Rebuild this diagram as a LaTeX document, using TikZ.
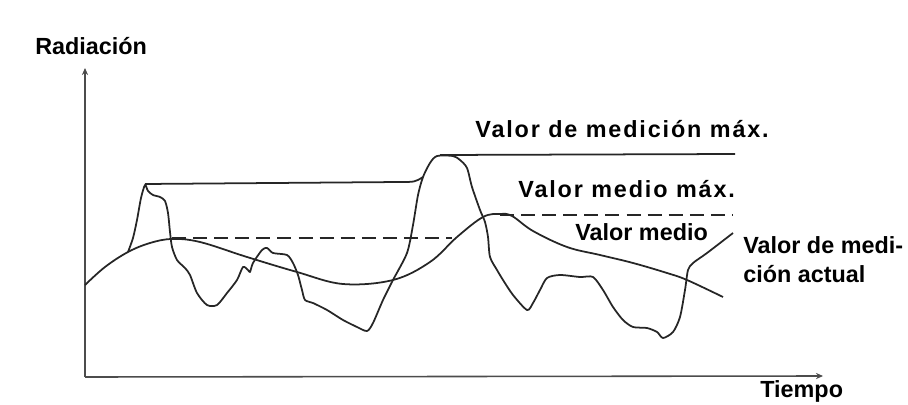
\documentclass[tikz,border=0pt]{standalone}
\usepackage{fontspec}
\setmainfont{Liberation Sans}
\newfontfamily\widefont[LetterSpace=8]{Liberation Sans}
\usetikzlibrary{arrows.meta}
\begin{document}
\begin{tikzpicture}[x=.02cm,y=-.02cm,every node/.style={font=\fontsize{13.3}{16}\selectfont\bfseries,inner sep=0pt,anchor=base west},curve/.style={black!85,line width=1pt,line join=round}]
		\useasboundingbox(0,0)rectangle(908,405);
		\coordinate(O)at(85,377);
		\coordinate(Y)at(85,68);
		\coordinate(X)at(823,376);
		\coordinate(P1)at(145,184);
		\coordinate(P2)at(440,155);
		\coordinate(M1)at(172,238);
		\coordinate(M2)at(500,215);
		\draw[black!70,line width=.9pt,-{Stealth[length=4pt,width=3.5pt]}](O)--(Y);
		\draw[black!70,line width=.9pt,-{Stealth[length=4pt,width=3.5pt]}](O)--(X);
		% valor medio
		\draw[curve]plot[smooth,tension=.6]coordinates{(85,285)(105,267)(128,252)(150,243)(172,239)(200,242)(247,257)(297,272)(343,284)(393,280)(430,262)(457,237)(483,217)(500,214)(512,216)(533,231)(567,247)(600,255)(633,263)(667,273)(687,280)(723,297)};
		% valor de medicion actual
		\draw[curve]plot[smooth,tension=.45]coordinates{(128,252)(133,238)(137,220)(141,198)(145,185)(148,191)(153,195)(160,197)(165,201)(168,213)(170,232)(172,247)(177,260)(185,268)(190,275)(197,293)(207,305)(217,305)(227,293)(237,280)(243,267)(248,270)(250,272)(253,263)(262,250)(267,248)(273,253)(287,255)(293,263)(298,275)(302,290)(305,300)(313,303)(327,310)(343,320)(357,327)(367,331)(373,323)(383,300)(393,280)(407,253)(413,225)(418,195)(423,177)(430,163)(437,156)(453,156)(460,160)(467,168)(472,187)(480,210)(485,222)(488,237)(490,257)(497,270)(503,280)(513,295)(527,310)(533,303)(540,290)(547,278)(560,275)(580,277)(593,277)(603,290)(613,307)(623,320)(633,327)(647,328)(657,332)(663,338)(673,332)(680,317)(685,290)(688,270)(693,263)(707,253)(733,233)};
		% maximos
		\draw[curve](P1)--(400,182)..controls(415,182)..(423,177);
		\draw[curve](P2)--(735,154);
		\draw[curve,dash pattern=on 8pt off 4pt](M1)--(452,238);
		\draw[curve,dash pattern=on 8pt off 4pt](M2)--(732,215);
		\node(rad)at(35,55){Radiación};
		\node(tie)at(760,397){Tiempo};
		\node(vmm)at(475,138){\widefont Valor de medición máx.};
		\node(vmx)at(518,197){\widefont Valor medio máx.};
		\node(vme)at(575,240){Valor medio};
		\node(act1)at(743,253){Valor de medi-};
		\node(act2)at(743,282){ción actual};
		\end{tikzpicture}
\end{document}
